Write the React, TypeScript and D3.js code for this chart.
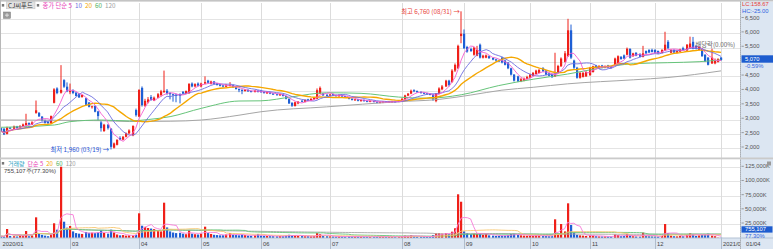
import React from "react";
import * as d3 from "d3";

// ---------- data (CJ씨푸드, 2020/01/30 ~ 2021/01/04) ----------
const monthNames = ["2020/01", "02", "03", "04", "05", "06", "07", "08", "09", "10", "11", "12", "2021/01"];
const monthDays = [2, 20, 22, 20, 19, 22, 23, 20, 21, 19, 21, 21, 1];

const opens = [
  2700,2680,2500,2720,2680,2760,2700,2760,2800,2880,
  2820,3230,3230,3100,2980,2920,2870,3580,4080,3930,
  4370,4140,3950,4000,3930,3900,3780,3740,3590,3440,
  3470,3280,2900,2600,2820,2680,2020,2120,2360,2300,
  2400,2520,2450,3330,3100,4100,3480,3600,3780,3660,
  3760,3850,3950,4000,3920,3880,3860,3880,3960,3900,
  3910,4250,4150,4250,4150,4250,4350,4240,4320,4250,
  4220,4180,4140,4170,4190,4120,4060,4030,3990,4030,
  3990,3960,4000,4000,3960,3910,3950,3900,3880,3840,
  3870,3810,3720,3580,3470,3560,3650,3620,3700,3660,
  3700,3720,3900,3900,3860,3830,3880,3850,3810,3850,
  3810,3780,3720,3670,3700,3640,3680,3650,3620,3650,
  3620,3580,3590,3620,3590,3600,3630,3610,3640,3700,
  3830,3900,4020,3990,3960,3930,3910,3890,3870,3640,
  3900,4050,4150,4350,4300,4700,4780,5900,5980,5520,
  5450,5250,5220,5600,5150,5150,5200,5140,5090,5060,
  5150,5050,4980,4780,4560,4500,4330,4350,4420,4460,
  4520,4580,4620,4780,4700,4600,4560,4500,4650,4850,
  5000,5200,6100,5050,4800,4450,4480,4500,4540,4650,
  4880,4780,4880,4800,4880,4850,4880,4950,5180,5230,
  5250,5450,5200,5320,5280,5180,5380,5420,5420,5420,
  5380,5320,5400,5700,5320,5420,5320,5360,5480,5400,
  5480,5700,5560,5420,5460,5250,5150,4950,4950,5000,
  5150,
];
const highs = [
  2720,2700,2750,2740,2790,2780,2800,2860,3200,2900,
  2940,3660,3260,3120,3000,2940,3140,4090,4120,4890,
  4400,4290,4250,4050,3960,3920,3870,3760,3610,3480,
  3490,3300,2950,2850,2840,2700,2200,2320,2420,2430,
  2550,2660,2800,3380,4050,4150,3720,3780,3850,3800,
  3920,4030,4700,4060,3950,3900,3900,3910,3990,4010,
  4260,4290,4260,4290,4280,4500,4380,4350,4340,4270,
  4240,4200,4240,4300,4210,4140,4080,4050,4060,4050,
  4010,4030,4020,4030,3990,3980,3970,3920,3900,3900,
  3890,3830,3730,3600,3620,3640,3680,3700,3720,3740,
  3780,4080,4150,3920,3880,3890,3900,3870,3870,3870,
  3830,3790,3740,3720,3720,3700,3700,3670,3670,3660,
  3630,3630,3640,3640,3640,3650,3650,3670,3740,3860,
  3920,4040,4050,4010,3980,3950,3930,3910,3880,3920,
  4120,4200,4380,4380,4750,4950,5600,6760,6130,5560,
  5500,5530,5560,5640,5250,5260,5230,5160,5110,5080,
  5180,5080,5000,4800,4580,4520,4450,4460,4520,4590,
  4650,4730,4760,4820,4720,4630,4580,5320,4900,5160,
  5380,6500,6300,5080,4830,4650,4650,4680,4830,4870,
  4900,4890,4900,4880,4900,4870,5150,5230,5200,5260,
  5500,5480,5320,5340,5300,5560,5400,5440,5460,5440,
  5400,5440,6050,5760,5440,5440,5400,5460,5530,5620,
  5880,5870,5580,5540,5480,5270,5170,5460,5120,5130,
  5170,
];
const lows = [
  2560,2460,2480,2660,2660,2680,2690,2740,2780,2800,
  2810,3200,3090,2930,2860,2850,2850,3560,3880,3900,
  4100,3950,3880,3880,3800,3750,3760,3490,3420,3380,
  3250,2950,2580,2570,2650,1960,1990,2100,2280,2280,
  2380,2480,2420,3100,3080,3450,3440,3560,3650,3640,
  3740,3800,3930,3860,3700,3620,3600,3560,3880,3880,
  3900,4120,4120,4150,4120,4230,4250,4220,4220,4180,
  4150,4120,4120,4150,4100,4040,3950,3880,3970,3960,
  3940,3940,3940,3930,3900,3890,3880,3850,3830,3820,
  3800,3700,3540,3440,3450,3530,3600,3600,3640,3640,
  3690,3700,3880,3820,3800,3810,3820,3800,3790,3790,
  3760,3700,3660,3650,3630,3620,3620,3600,3600,3590,
  3560,3560,3570,3580,3580,3590,3590,3600,3620,3690,
  3810,3880,3950,3930,3900,3880,3860,3840,3650,3600,
  3880,4020,4130,4150,4280,4650,4760,5650,5450,5320,
  5350,5220,5200,5120,5120,5130,5110,5060,5020,5000,
  4950,4880,4750,4530,4320,4300,4300,4330,4400,4440,
  4500,4560,4600,4650,4540,4500,4450,4480,4630,4830,
  4980,5180,5100,4760,4420,4420,4460,4480,4520,4630,
  4780,4760,4780,4780,4780,4770,4860,4930,5080,5100,
  5230,5120,5180,5200,5160,5160,5280,5310,5330,5300,
  5280,5300,5380,5450,5300,5310,5300,5340,5400,5380,
  5460,5440,5440,5400,5180,5000,4880,4930,4920,4980,
  5040,
];
const closes = [
  2600,2480,2720,2680,2760,2700,2780,2830,2880,2820,
  2900,3320,3110,2950,2880,2870,3120,4050,3920,4030,
  4140,3980,4000,3920,3820,3770,3850,3510,3440,3460,
  3270,3120,2700,2820,2700,2050,2170,2290,2300,2400,
  2520,2620,2775,3150,4030,3500,3650,3700,3680,3760,
  3880,3980,4000,3900,3880,3850,3820,3820,3900,3990,
  4240,4150,4230,4180,4250,4300,4280,4320,4240,4200,
  4170,4150,4180,4200,4120,4060,4020,3990,4030,3980,
  3960,4000,3960,3950,3920,3950,3900,3870,3850,3880,
  3820,3720,3560,3480,3600,3620,3620,3680,3660,3720,
  3760,4020,4100,3840,3820,3870,3840,3810,3850,3800,
  3780,3720,3680,3700,3650,3680,3640,3620,3650,3610,
  3580,3610,3620,3600,3620,3630,3610,3650,3720,3840,
  3900,4000,3980,3950,3920,3900,3880,3860,3700,3900,
  4080,4150,4350,4200,4700,4900,5560,5980,5480,5360,
  5380,5500,5420,5150,5220,5230,5130,5080,5050,5020,
  4980,4900,4780,4560,4350,4320,4400,4420,4480,4560,
  4620,4700,4720,4680,4560,4520,4470,4560,4860,5120,
  5300,6100,5150,4800,4450,4620,4620,4650,4800,4850,
  4800,4860,4800,4860,4800,4790,5120,5200,5100,5120,
  5460,5150,5300,5220,5180,5300,5300,5330,5350,5320,
  5300,5420,5600,5480,5420,5330,5380,5440,5420,5600,
  5640,5460,5460,5520,5200,5020,4900,5150,5050,5100,
  5070,
];
// thousand shares
const volumes = [
  3500,3000,16200,4000,3500,3000,4500,5000,12700,3500,
  5000,36800,8000,6000,4500,3500,7000,26300,15000,126000,
  29100,18500,21500,12000,9000,8000,7500,11000,9500,9700,
  9000,10000,14000,9500,8000,15000,10000,6500,5000,5500,
  4500,5000,4800,6000,43900,22000,20000,18000,17000,16000,
  14000,12000,62600,19000,12000,10000,9000,9500,8000,7000,
  14000,8000,7000,6500,8000,20300,9000,7500,6000,5500,
  5000,5200,6500,9000,6000,5500,5000,6500,5500,4500,
  4200,5000,7500,4500,4000,3800,3500,3600,3400,3800,
  3500,4500,6000,5500,5000,4000,3800,3500,3600,3400,
  3800,9000,7000,4000,3500,3300,3000,2800,3000,2900,
  2700,3200,3000,2800,2600,2700,2500,2600,2400,2500,
  2700,2600,2500,2400,2600,2500,2400,2700,3500,4500,
  4000,5000,3500,3000,2800,2700,2600,2500,5500,8500,
  8600,8000,9000,7000,11500,17500,77400,64300,12000,9000,
  7000,8000,7500,9000,6000,8000,5000,4500,4000,4200,
  4500,4500,5500,7500,8000,6000,5000,4500,4200,4500,
  4200,4800,4500,4000,3800,3500,3600,33300,8000,25000,
  12000,61500,23300,10000,6000,5000,4500,4000,5000,4500,
  3500,3200,3000,3100,2900,2800,6500,5500,3500,3800,
  7000,5000,3500,3000,2800,9700,4000,3500,3200,3000,
  2800,4000,25000,9000,4500,3500,3200,3800,3500,6000,
  8600,7000,4000,5000,6000,7000,8000,4500,3500,976.85,
  755.107,
];
// 60 / 120 day price averages: [day index, price]
const ma60Read = [
  [0,2730],[17,2810],[22,2925],[32,2983],[41,2950],[47,3000],[54,3100],[64,3390],
  [76,3643],[83,3650],[93,3790],[104,3930],[115,3910],[127,3780],[136,3740],[147,3860],
  [159,4180],[170,4400],[181,4580],[191,4780],[202,4940],[213,4975],[223,5010],[230,5070],
];
const ma120Read = [
  [0,2983],[32,2960],[41,2930],[54,2940],[64,2983],[76,3150],[83,3270],[104,3440],
  [127,3620],[140,3700],[150,3850],[160,4020],[170,4120],[181,4240],[202,4380],[213,4460],[230,4690],
];
const priceTicks = [6500, 6000, 5500, 5000, 4500, 4000, 3500, 3000, 2500, 2000];
const volTicks = [125000, 100000, 75000, 50000, 25000];

// ---------- styling ----------
const FONT = "'Noto Sans CJK KR', 'Noto Sans', sans-serif";
const NUMFONT = "'Liberation Sans', Arial, sans-serif";
const FS = 6.3;
const FN = 5.8;
const UP = "#ef2019";
const DOWN = "#1e5fd5";
const C5 = "#f55bd0", C10 = "#6d6de0", C20 = "#f5a700", C60 = "#66c47a", C120 = "#a6a6a6";
const PANEL = "#dce6f2";
const GRID = "#e4e4e4";

function sma(arr: number[], n: number): number[] {
  return arr.map((_, i) => d3.mean(arr.slice(Math.max(0, i - n + 1), i + 1)) as number);
}
const fmt = d3.format(",");

export default function App() {
  const N = closes.length;
  const x = d3.scaleLinear().domain([0, N - 1]).range([1.1, 721]);
  const y = d3.scaleLinear().domain([2000, 6500]).range([148.3, 18.8]);
  const yv = d3.scaleLinear().domain([0, 125000]).range([238.2, 167.3]);

  const line = d3.line<number>().x((_, i) => x(i)).y((d) => y(d));
  const vline = d3.line<number>().x((_, i) => x(i)).y((d) => yv(d));
  const rline = d3.line<number[]>().x((d) => x(d[0])).y((d) => y(d[1])).curve(d3.curveMonotoneX);

  const ma5 = sma(closes, 5), ma10 = sma(closes, 10), ma20 = sma(closes, 20);
  const v5 = sma(volumes, 5), v20 = sma(volumes, 20), v60 = sma(volumes, 60), v120 = sma(volumes, 120);

  const starts: number[] = [];
  monthDays.reduce((acc, d) => { starts.push(acc); return acc + d; }, 0);
  const monthTicks = starts.map((s, k) => ({ idx: s, label: monthNames[k], k })).filter((t) => x(t.idx) > 40);

  const last = closes[N - 1];
  const prev = closes[N - 2];
  const chg = ((last - prev) / prev) * 100;
  const lastVol = Math.round(volumes[N - 1] * 1000);
  const volRatio = (volumes[N - 1] / volumes[N - 2]) * 100;

  const hiIdx = d3.maxIndex(highs);
  const loIdx = d3.minIndex(lows);

  return (
    <svg width={773} height={249} style={{ display: "block", position: "absolute", left: 0, top: 0 }} fontFamily={FONT}>
      <defs>
        <clipPath id="pc"><rect x={1} y={3} width={739} height={154} /></clipPath>
        <clipPath id="vc"><rect x={1} y={160} width={739} height={78} /></clipPath>
      </defs>
      <rect x={0} y={0} width={773} height={249} fill="#fff" />

      {priceTicks.map((v) => (
        <line key={"pg" + v} x1={1} x2={740} y1={Math.round(y(v)) + 0.5} y2={Math.round(y(v)) + 0.5} stroke={GRID} />
      ))}
      {volTicks.map((v) => (
        <line key={"vg" + v} x1={1} x2={740} y1={Math.round(yv(v)) + 0.5} y2={Math.round(yv(v)) + 0.5} stroke={GRID} />
      ))}
      {monthTicks.map((t) => (
        <line key={"mg" + t.k} x1={Math.round(x(t.idx)) + 0.5} x2={Math.round(x(t.idx)) + 0.5} y1={3} y2={249} stroke="#dcdcdc" />
      ))}

      <g clipPath="url(#pc)">
        {closes.map((c, i) => {
          const o = opens[i];
          const col = c >= o ? UP : DOWN;
          const cx = Math.round(x(i));
          const top = y(Math.max(o, c));
          const h = Math.max(1, y(Math.min(o, c)) - top);
          return (
            <g key={"k" + i}>
              <line x1={cx} x2={cx} y1={y(highs[i])} y2={y(lows[i])} stroke={col} strokeWidth={1} />
              <rect x={cx - 1} y={top} width={2.2} height={h} fill={col} />
            </g>
          );
        })}
        <path d={rline(ma120Read) || ""} fill="none" stroke={C120} strokeWidth={1} />
        <path d={rline(ma60Read) || ""} fill="none" stroke={C60} strokeWidth={1} />
        <path d={line(ma20) || ""} fill="none" stroke={C20} strokeWidth={1.4} />
        <path d={line(ma10) || ""} fill="none" stroke={C10} strokeWidth={0.9} />
        <path d={line(ma5) || ""} fill="none" stroke={C5} strokeWidth={0.9} />
      </g>

      <g clipPath="url(#vc)">
        {volumes.map((v, i) => {
          const col = closes[i] >= opens[i] ? UP : DOWN;
          const cx = Math.round(x(i));
          return <rect key={"v" + i} x={cx - 1} y={yv(v)} width={2.2} height={Math.max(0, yv(0) - yv(v))} fill={col} />;
        })}
        <path d={vline(v120) || ""} fill="none" stroke={C120} strokeWidth={0.9} />
        <path d={vline(v60) || ""} fill="none" stroke={C60} strokeWidth={0.9} />
        <path d={vline(v20) || ""} fill="none" stroke="#f7c66e" strokeWidth={0.9} />
        <path d={vline(v5) || ""} fill="none" stroke="#f77ad8" strokeWidth={0.9} />
      </g>

      <rect x={0} y={0} width={773} height={1.6} fill="#c4c4c4" />
      <rect x={0} y={0} width={1} height={249} fill="#b8b8b8" />
      <rect x={0} y={157.5} width={773} height={1.8} fill="#cacaca" />

      <rect x={0} y={238} width={773} height={11} fill={PANEL} />
      <line x1={0} x2={773} y1={238} y2={238} stroke="#b4c2d4" />
      {monthTicks.map((t) => (
        <line key={"ms" + t.k} x1={Math.round(x(t.idx)) + 0.5} x2={Math.round(x(t.idx)) + 0.5} y1={238} y2={249} stroke="#b0bccc" />
      ))}
      <text x={2.5} y={243.8} fontSize={FN} fontFamily={NUMFONT} fill="#444" dominantBaseline="central">{monthNames[0]}</text>
      {monthTicks.map((t) => (
        <text key={"ml" + t.k} x={Math.round(x(t.idx)) + 2} y={243.8} fontSize={FN} fontFamily={NUMFONT} fill="#444" dominantBaseline="central">{t.label}</text>
      ))}

      <text x={x(hiIdx) - 1.5} y={11.7} fontSize={FS} fill="#e8403a" textAnchor="end" dominantBaseline="central">
        {"최고 " + fmt(highs[hiIdx]) + " (08/31) →"}
      </text>
      <text x={x(loIdx) - 1.5} y={149.3} fontSize={FS} fill="#2453d6" textAnchor="end" dominantBaseline="central">
        {"최저 " + fmt(lows[loIdx]) + " (03/19) →"}
      </text>
      <text x={695.5} y={44.5} fontSize={FS} fill="#666" dominantBaseline="central">배당락(0.00%)</text>

      <rect x={1.8} y={4} width={2.4} height={2.6} fill="#777" />
      <rect x={6.5} y={1.8} width={28.5} height={7} fill="#e2e2e2" stroke="#bdbdbd" strokeWidth={0.5} />
      <text x={8} y={5.4} fontSize={FS} fill="#333" dominantBaseline="central">CJ씨푸드</text>
      <rect x={36.8} y={4} width={2.4} height={2.6} fill="#777" />
      <text x={42.5} y={5.4} fontSize={FS} dominantBaseline="central">
        <tspan fill="#e83fb8">종가 단순 5</tspan>
        <tspan fill={C10} dx={3}>10</tspan>
        <tspan fill={C20} dx={3}>20</tspan>
        <tspan fill="#4fb060" dx={3}>60</tspan>
        <tspan fill="#a0a0a0" dx={3}>120</tspan>
      </text>
      <rect x={3.5} y={12} width={7} height={6.3} fill="#9a9a9a" stroke="#777" strokeWidth={0.5} />
      <line x1={5} x2={9} y1={15.15} y2={15.15} stroke="#eee" strokeWidth={0.8} />
      <line x1={7} x2={7} y1={13.2} y2={17.1} stroke="#eee" strokeWidth={0.8} />

      <rect x={1.8} y={162} width={2.4} height={2.6} fill="#777" />
      <text x={8} y={163.2} fontSize={6} dominantBaseline="central">
        <tspan fill="#2a9fc2">거래량</tspan>
        <tspan fill="#e83fb8" dx={3}>단순 5</tspan>
        <tspan fill={C20} dx={3}>20</tspan>
        <tspan fill="#4fb060" dx={3}>60</tspan>
        <tspan fill="#a0a0a0" dx={3}>120</tspan>
      </text>
      <text x={4} y={171.3} fontSize={6} fontFamily={NUMFONT} fill="#444" dominantBaseline="central">
        {fmt(lastVol) + "주(" + volRatio.toFixed(2) + "%)"}
      </text>

      <rect x={740} y={1.6} width={33} height={247.4} fill={PANEL} />
      <line x1={740.5} x2={740.5} y1={1.6} y2={249} stroke="#8a8a8a" strokeDasharray="1,1" />
      <rect x={740} y={157.5} width={33} height={1.8} fill="#cacaca" />
      <line x1={740} x2={773} y1={238} y2={238} stroke="#b4c2d4" />
      <g fontFamily={NUMFONT} fontSize={FN}>
        {priceTicks.filter((v) => Math.abs(y(v) - y(last)) > 5).map((v) => (
          <g key={"pl" + v}>
            <line x1={741.5} x2={743.8} y1={y(v) - 1.3} y2={y(v) - 1.3} stroke="#666" strokeWidth={0.6} />
            <text x={745} y={y(v) - 1.3} fill="#555" dominantBaseline="central">{fmt(v)}</text>
          </g>
        ))}
        {volTicks.map((v) => (
          <g key={"vl" + v}>
            <line x1={741.5} x2={743.8} y1={yv(v) - 1} y2={yv(v) - 1} stroke="#666" strokeWidth={0.6} />
            <text x={745} y={yv(v) - 1} fill="#555" dominantBaseline="central">{fmt(v) + "K"}</text>
          </g>
        ))}
        <text x={742} y={4.4} fill="#e8403a" dominantBaseline="central">LC:158.67</text>
        <text x={742} y={10.9} fill="#2f64e0" dominantBaseline="central">HC:-25.00</text>

        <rect x={741.5} y={55.3} width={31.5} height={7.4} fill="#1d5ccf" />
        <text x={745} y={59} fill="#fff" dominantBaseline="central">{fmt(last)}</text>
        <text x={745} y={66.3} fill="#2f64e0" dominantBaseline="central">{chg.toFixed(2)}%</text>

        <rect x={741.5} y={226.3} width={31} height={6.3} fill="#1d5ccf" />
        <text x={745} y={229.45} fill="#fff" dominantBaseline="central">{fmt(lastVol)}</text>
        <text x={745} y={235.8} fill="#2f64e0" dominantBaseline="central">{volRatio.toFixed(2)}%</text>
        <text x={746} y={243.8} fill="#444" dominantBaseline="central">01/04</text>
      </g>
      <rect x={767} y={161.5} width={4} height={4} fill="#9a9a9a" />
    </svg>
  );
}
